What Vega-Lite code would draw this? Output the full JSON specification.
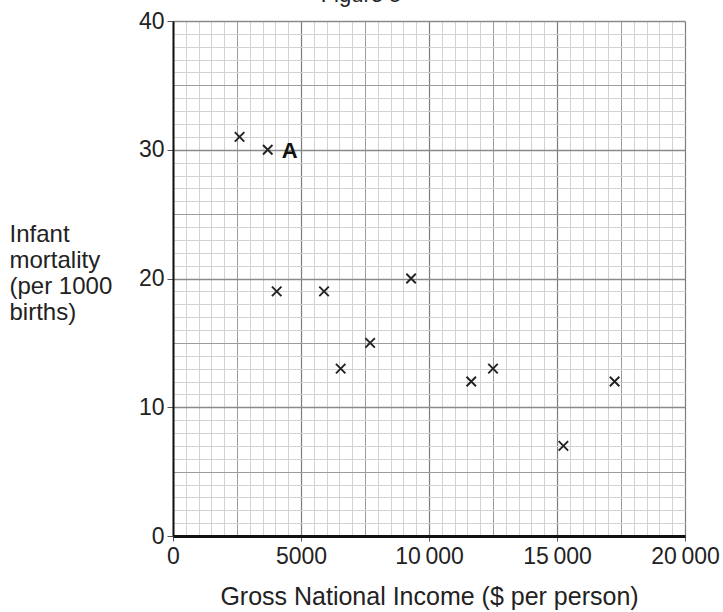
{
  "$schema": "https://vega.github.io/schema/vega-lite/v6.json",
  "width": 512,
  "height": 515,
  "autosize": {"type": "none"},
  "padding": {"left": 173, "top": 21, "right": 38, "bottom": 76},
  "background": "white",
  "title": {"text": "Figure 5", "anchor": "middle", "dx": -68, "fontSize": 22, "fontWeight": "normal", "font": "Liberation Sans", "color": "#222", "offset": 3},
  "config": {"view": {"stroke": null}, "font": "Liberation Sans"},
  "data": {"values": [
    {"gni": 2600, "mortality": 31, "label": ""},
    {"gni": 3700, "mortality": 30, "label": "A"},
    {"gni": 4050, "mortality": 19, "label": ""},
    {"gni": 5900, "mortality": 19, "label": ""},
    {"gni": 6550, "mortality": 13, "label": ""},
    {"gni": 7700, "mortality": 15, "label": ""},
    {"gni": 9300, "mortality": 20, "label": ""},
    {"gni": 11650, "mortality": 12, "label": ""},
    {"gni": 12500, "mortality": 13, "label": ""},
    {"gni": 15250, "mortality": 7, "label": ""},
    {"gni": 17250, "mortality": 12, "label": ""}
  ]},
  "layer": [
    {
      "mark": {"type": "point", "opacity": 0},
      "encoding": {
        "x": {"field": "gni", "type": "quantitative", "scale": {"domain": [0, 20000], "nice": false, "zero": true},
          "axis": {"orient": "bottom", "values": [500,1000,1500,2000,3000,3500,4000,4500,5500,6000,6500,7000,8000,8500,9000,9500,10500,11000,11500,12000,13000,13500,14000,14500,15500,16000,16500,17000,18000,18500,19000,19500], "grid": true, "gridColor": "#d2d2d2", "gridWidth": 1, "labels": false, "ticks": false, "domain": false, "title": null}},
        "y": {"field": "mortality", "type": "quantitative", "scale": {"domain": [0, 40], "nice": false, "zero": true},
          "axis": {"orient": "left", "values": [1,2,3,4,6,7,8,9,11,12,13,14,16,17,18,19,21,22,23,24,26,27,28,29,31,32,33,34,36,37,38,39], "grid": true, "gridColor": "#d2d2d2", "gridWidth": 1, "labels": false, "ticks": false, "domain": false, "title": null}}
      }
    },
    {
      "mark": {"type": "point", "opacity": 0},
      "encoding": {
        "x": {"field": "gni", "type": "quantitative",
          "axis": {"orient": "bottom", "values": [2500, 7500, 12500, 17500], "grid": true, "gridColor": "#9c9c9c", "gridWidth": 1, "labels": false, "ticks": false, "domain": false, "title": null}},
        "y": {"field": "mortality", "type": "quantitative",
          "axis": {"orient": "left", "values": [5, 15, 25, 35], "grid": true, "gridColor": "#9c9c9c", "gridWidth": 1, "labels": false, "ticks": false, "domain": false, "title": null}}
      }
    },
    {
      "mark": {"type": "point", "opacity": 0},
      "encoding": {
        "x": {"field": "gni", "type": "quantitative",
          "axis": {"orient": "bottom", "values": [0, 5000, 10000, 15000, 20000], "grid": true, "gridColor": "#7c7c7c", "gridWidth": 1.2, "labels": false, "ticks": false, "domain": false, "title": null}},
        "y": {"field": "mortality", "type": "quantitative",
          "axis": {"orient": "left", "values": [0, 10, 20, 30, 40], "grid": true, "gridColor": "#8a8a8a", "gridWidth": 1.5, "labels": false, "ticks": false, "domain": false, "title": null}}
      }
    },
    {
      "mark": {"type": "point", "shape": "M-1,-1L1,1M-1,1L1,-1", "filled": false, "size": 90, "strokeWidth": 1.9, "color": "#222", "opacity": 1},
      "encoding": {
        "x": {"field": "gni", "type": "quantitative",
          "axis": {"orient": "bottom", "zindex": 1, "values": [0, 5000, 10000, 15000, 20000], "grid": false,
            "labelExpr": "datum.value >= 10000 ? replace(format(datum.value, ','), ',', '\u2009') : format(datum.value, 'd')",
            "labelFontSize": 23, "labelColor": "#222", "labelPadding": 4, "labelFlush": false,
            "ticks": true, "tickSize": 5, "tickColor": "#555",
            "domain": true, "domainColor": "#111", "domainWidth": 3,
            "title": "Gross National Income ($ per person)", "titleFontSize": 25, "titleFontWeight": "normal", "titleColor": "#222", "titlePadding": 16}},
        "y": {"field": "mortality", "type": "quantitative",
          "axis": {"orient": "left", "zindex": 1, "values": [0, 10, 20, 30, 40], "grid": false,
            "labelFontSize": 23, "labelColor": "#222", "labelPadding": 3,
            "ticks": true, "tickSize": 6, "tickColor": "#555",
            "domain": true, "domainColor": "#111", "domainWidth": 2,
            "title": ["Infant", "mortality", "(per 1000", "births)"], "titleAngle": 0, "titleAlign": "left", "titleBaseline": "top",
            "titleX": -164, "titleY": 201, "titleFontSize": 24, "titleFontWeight": "normal", "titleColor": "#222", "titleLineHeight": 26}}
      }
    },
    {
      "transform": [{"filter": "datum.label != ''"}],
      "mark": {"type": "text", "fontSize": 22, "fontWeight": "bold", "color": "#111", "dx": 22, "dy": 1, "align": "center", "baseline": "middle"},
      "encoding": {
        "x": {"field": "gni", "type": "quantitative", "axis": null},
        "y": {"field": "mortality", "type": "quantitative", "axis": null},
        "text": {"field": "label"}
      }
    }
  ],
  "resolve": {"axis": {"x": "independent", "y": "independent"}}
}
